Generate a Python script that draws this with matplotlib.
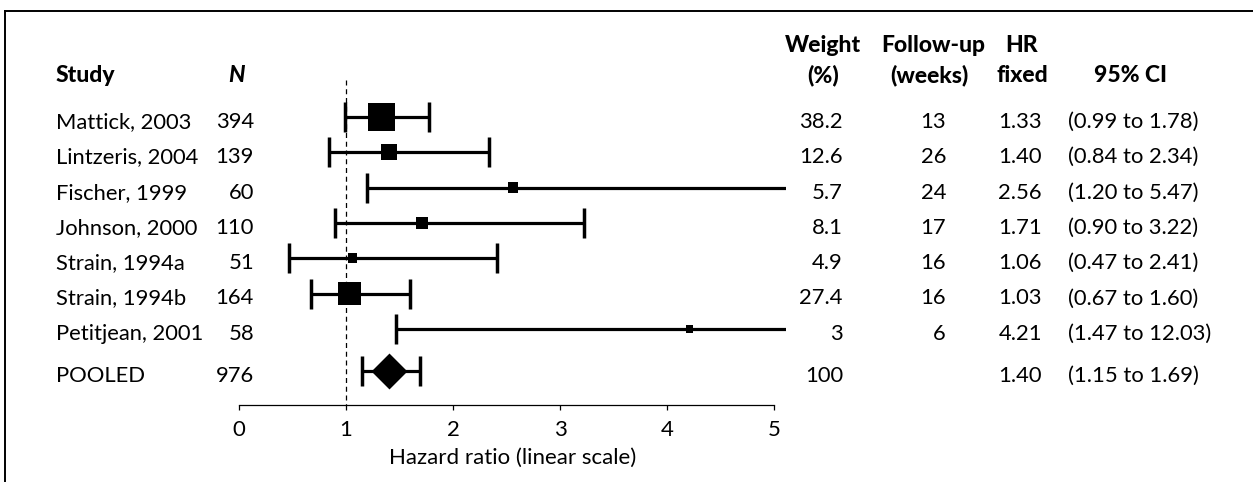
import numpy as np
import matplotlib.pyplot as plt
from matplotlib.transforms import blended_transform_factory
from matplotlib.lines import Line2D

plt.rcParams['font.family'] = ['Lato', 'DejaVu Sans']

# study level data
studies = ['Mattick, 2003', 'Lintzeris, 2004', 'Fischer, 1999', 'Johnson, 2000',
           'Strain, 1994a', 'Strain, 1994b', 'Petitjean, 2001']
n_patients = [394, 139, 60, 110, 51, 164, 58]
weights = [38.2, 12.6, 5.7, 8.1, 4.9, 27.4, 3]
followup = [13, 26, 24, 17, 16, 16, 6]
hr = [1.33, 1.40, 2.56, 1.71, 1.06, 1.03, 4.21]
ci_low = [0.99, 0.84, 1.20, 0.90, 0.47, 0.67, 1.47]
ci_high = [1.78, 2.34, 5.47, 3.22, 2.41, 1.60, 12.03]

# pooled estimate
pooled_label = 'POOLED'
pooled_n = 976
pooled_weight = 100
pooled_hr = 1.40
pooled_low = 1.15
pooled_high = 1.69

xticks = [0, 1, 2, 3, 4, 5]

W, H = 1253, 482
fig = plt.figure(figsize=(W / 100, H / 100), dpi=100)

# layout in pixels
row_px = 35.3
row0 = 117
ax_top, ax_bot = 30, 405
x0_px, x_end_px, unit_px = 239, 786, 107

ax = fig.add_axes([x0_px / W, 1 - ax_bot / H, (x_end_px - x0_px) / W, (ax_bot - ax_top) / H])
ax.set_xlim(0, (x_end_px - x0_px) / unit_px)
ax.set_ylim((ax_bot - row0) / row_px, (ax_top - row0) / row_px)
ax.patch.set_visible(False)

ys = np.arange(len(studies))
pooled_y = 7.2

hr_a = np.array(hr)
lo_a = np.array(ci_low)
hi_a = np.array(ci_high)

# reference line at HR = 1
ax.plot([1, 1], [(80 - row0) / row_px, (ax_bot - row0) / row_px], color='black',
        lw=0.9, ls=(0, (4, 3)), zorder=1)

ax.errorbar(hr_a, ys, xerr=[hr_a - lo_a, hi_a - hr_a], fmt='none', ecolor='black',
            elinewidth=2.3, capsize=10.8, capthick=2.5, zorder=2)
side_pt = 4.4 * np.sqrt(np.array(weights)) * 0.72
ax.scatter(hr_a, ys, marker='s', s=side_pt ** 2, color='black', linewidths=0, zorder=3)

ax.errorbar([pooled_hr], [pooled_y], xerr=[[pooled_hr - pooled_low], [pooled_high - pooled_hr]],
            fmt='none', ecolor='black', elinewidth=2.3, capsize=10.8, capthick=2.5, zorder=2)
ax.scatter([pooled_hr], [pooled_y], marker='D', s=18.3 ** 2, color='black', linewidths=0, zorder=3)

for s in ['left', 'top', 'right']:
    ax.spines[s].set_visible(False)
ax.spines['bottom'].set_bounds(0, 5)
ax.spines['bottom'].set_linewidth(0.9)
ax.set_yticks([])
ax.set_xticks(xticks)
ax.set_xticklabels([str(t) for t in xticks])
ax.tick_params(axis='x', length=3.6, width=0.9, labelsize=16, pad=7)
ax.set_xlabel('Hazard ratio (linear scale)', fontsize=16, labelpad=6)

# table text
tf = blended_transform_factory(fig.transFigure, ax.transData)
fs = 15.8
off = 11 / row_px


def put(px, y, s, ha='left', size=fs, **kw):
    ax.text(px / W, y, s, transform=tf, ha=ha, va='baseline', fontsize=size, **kw)


h1 = (52 - row0) / row_px
h2 = (82 - row0) / row_px
hfs = 16.5
put(56, h2, 'Study', weight='black', size=hfs)
put(236, h2, 'N', ha='center', weight='black', style='italic', size=hfs)
put(823, h1, 'Weight', ha='center', weight='black', size=hfs)
put(823, h2, '(%)', ha='center', weight='black', size=hfs)
put(933, h1, 'Follow-up', ha='center', weight='black', size=hfs)
put(929, h2, '(weeks)', ha='center', weight='black', size=hfs)
put(1022, h1, 'HR', ha='center', weight='black', size=hfs)
put(1022, h2, 'fixed', ha='center', weight='black', size=hfs)
put(1130, h2, '95% CI', ha='center', weight='black', size=hfs)

for i in range(len(studies)):
    y = ys[i] + off
    put(56, y, studies[i])
    put(254, y, str(n_patients[i]), ha='right')
    put(843, y, f'{weights[i]:g}', ha='right')
    put(946, y, str(followup[i]), ha='right')
    put(1042, y, f'{hr[i]:.2f}', ha='right')
    put(1068, y, f'({ci_low[i]:.2f} to {ci_high[i]:.2f})')

y = pooled_y + off
put(56, y, pooled_label)
put(254, y, str(pooled_n), ha='right')
put(843, y, f'{pooled_weight:g}', ha='right')
put(1042, y, f'{pooled_hr:.2f}', ha='right')
put(1068, y, f'({pooled_low:.2f} to {pooled_high:.2f})')

# frame lines at top and left
fig.add_artist(Line2D([5 / W, 1], [1 - 11 / H, 1 - 11 / H], transform=fig.transFigure,
                      color='black', lw=1.4))
fig.add_artist(Line2D([5 / W, 5 / W], [1 - 11 / H, 0], transform=fig.transFigure,
                      color='black', lw=1.4))

fig.savefig('out.png', dpi=100)
